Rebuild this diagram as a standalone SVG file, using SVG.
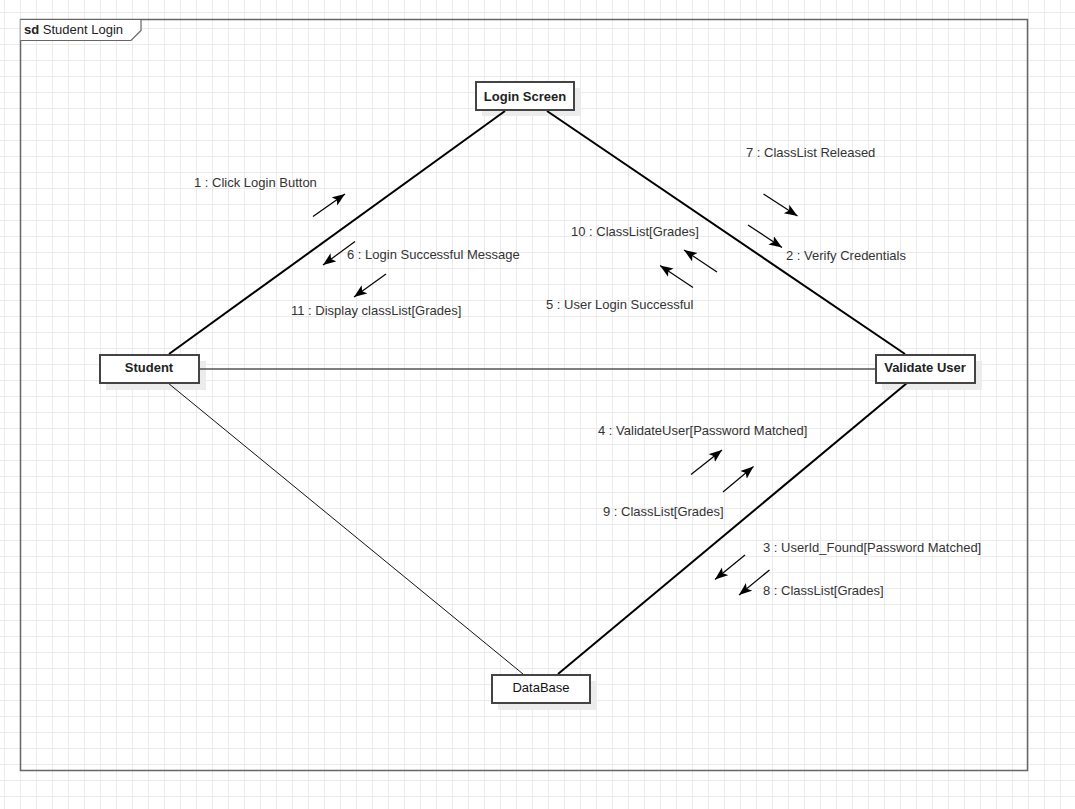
<svg xmlns="http://www.w3.org/2000/svg" width="1075" height="809" viewBox="0 0 1075 809">
<style>
.lbl{font-family:"Liberation Sans",Arial,sans-serif;font-size:13px;fill:#333}
.nlbl{font-family:"Liberation Sans",Arial,sans-serif;font-size:13px;font-weight:bold;fill:#222;text-anchor:middle}
.box{fill:#fff;stroke:#444;stroke-width:2}
.shadow{fill:#ececec}
.link{stroke:#000;stroke-width:2;fill:none}
.msg{stroke:#000;stroke-width:1.2;fill:none;marker-end:url(#ah)}
</style>
<defs>
<pattern id="grid" patternUnits="userSpaceOnUse" x="4" y="12" width="16" height="16">
<path d="M0.5 0V16M0 0.5H16" stroke="#ebebeb" stroke-width="1" fill="none"/>
</pattern>
<marker id="ah" markerUnits="userSpaceOnUse" markerWidth="14" markerHeight="12" refX="13" refY="5" orient="auto">
<path d="M0 0L13 5L0 10L3 5Z" fill="#000"/>
</marker>
</defs>
<rect width="1075" height="809" fill="#fff"/>
<rect width="1075" height="809" fill="url(#grid)"/>
<g id="frame">
<rect x="20.5" y="19.5" width="1007" height="751" fill="none" stroke="#666" stroke-width="1.5"/>
<path d="M20.5 19.5H141V30.5L131 40.5H20.5" fill="#fff" stroke="#666" stroke-width="1.2"/>
<text x="24" y="34" class="lbl" style="fill:#222"><tspan font-weight="bold">sd</tspan> Student Login</text>
</g>
<g id="shadows">
<rect class="shadow" x="482" y="88" width="98" height="28"/>
<rect class="shadow" x="106" y="361" width="100" height="29"/>
<rect class="shadow" x="882" y="361" width="100" height="29"/>
<rect class="shadow" x="498" y="681" width="99" height="29"/>
</g>
<g id="connectors">
<line class="link" x1="169" y1="354" x2="505" y2="111"/>
<line class="link" x1="547" y1="111" x2="905" y2="354"/>
<line x1="199" y1="369" x2="876" y2="369" stroke="#555" stroke-width="1.5"/>
<line x1="168" y1="383" x2="523" y2="674" stroke="#111" stroke-width="1"/>
<line class="link" x1="907" y1="383" x2="558" y2="674"/>
</g>
<g id="messages">
<line class="msg" x1="313" y1="216.5" x2="345" y2="194"/>
<text class="lbl" x="194" y="187">1 : Click Login Button</text>
<line class="msg" x1="355" y1="241.5" x2="323" y2="265"/>
<text class="lbl" x="347" y="259">6 : Login Successful Message</text>
<line class="msg" x1="386" y1="274" x2="354" y2="297"/>
<text class="lbl" x="291" y="315">11 : Display classList[Grades]</text>
<line class="msg" x1="763.5" y1="194" x2="797.5" y2="216"/>
<text class="lbl" x="746" y="157">7 : ClassList Released</text>
<line class="msg" x1="748" y1="225" x2="782" y2="247.5"/>
<text class="lbl" x="786" y="260">2 : Verify Credentials</text>
<line class="msg" x1="717" y1="272" x2="684" y2="250"/>
<text class="lbl" x="571" y="236">10 : ClassList[Grades]</text>
<line class="msg" x1="693" y1="287.5" x2="660" y2="265.5"/>
<text class="lbl" x="546" y="309">5 : User Login Successful</text>
<line class="msg" x1="691" y1="474.5" x2="722" y2="450"/>
<text class="lbl" x="598" y="435">4 : ValidateUser[Password Matched]</text>
<line class="msg" x1="723" y1="492" x2="753.5" y2="466.5"/>
<text class="lbl" x="603" y="516">9 : ClassList[Grades]</text>
<line class="msg" x1="745" y1="555" x2="715" y2="579.5"/>
<text class="lbl" x="763" y="552">3 : UserId_Found[Password Matched]</text>
<line class="msg" x1="769.5" y1="570" x2="739" y2="595"/>
<text class="lbl" x="763" y="595">8 : ClassList[Grades]</text>
</g>
<g id="login-screen">
<rect class="box" x="476" y="82" width="98" height="28"/>
<text class="nlbl" x="525" y="100.5">Login Screen</text>
</g>
<g id="student">
<rect class="box" x="100" y="355" width="99" height="28"/>
<text class="nlbl" x="149" y="372">Student</text>
</g>
<g id="validate-user">
<rect class="box" x="876" y="355" width="99" height="28"/>
<text class="nlbl" x="925" y="372">Validate User</text>
</g>
<g id="database">
<rect class="box" x="492" y="675" width="98" height="28"/>
<text class="nlbl" x="541" y="692" style="font-weight:normal;fill:#111">DataBase</text>
</g>
</svg>
